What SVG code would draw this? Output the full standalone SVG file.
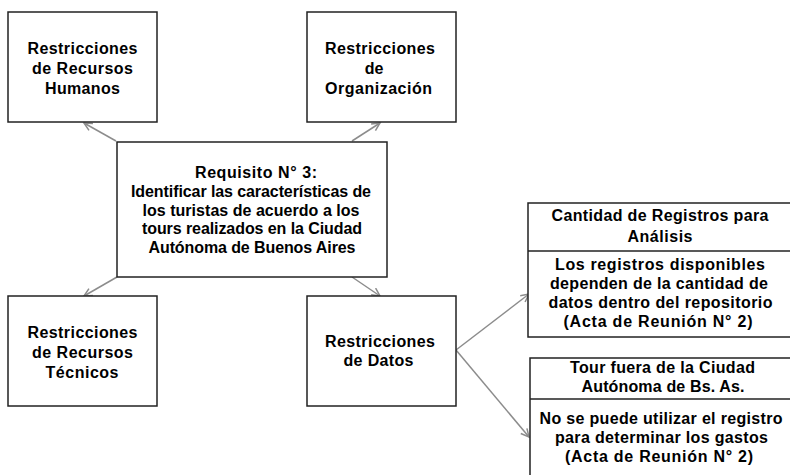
<svg xmlns="http://www.w3.org/2000/svg" width="790" height="475" viewBox="0 0 790 475">
<style>
.box{fill:#fff;stroke:#222;stroke-width:1.5}
.t{font-family:"Liberation Sans",Arial,sans-serif;font-weight:bold;font-size:16px;fill:#000;text-anchor:middle}
.c{fill:none;stroke:#8c8c8c;stroke-width:1.5}
</style>
<defs>
<marker id="ah" markerUnits="userSpaceOnUse" markerWidth="12" markerHeight="12" refX="9" refY="5" orient="auto">
<path d="M1,1 L9,5 L1,9" fill="none" stroke="#8c8c8c" stroke-width="1.5"/>
</marker>
</defs>
<g id="connectors">
<line class="c" x1="116" y1="141" x2="84" y2="123" marker-end="url(#ah)"/>
<line class="c" x1="352" y1="141" x2="380" y2="123" marker-end="url(#ah)"/>
<line class="c" x1="117" y1="277" x2="84" y2="296" marker-end="url(#ah)"/>
<line class="c" x1="352" y1="277" x2="380" y2="296" marker-end="url(#ah)"/>
<line class="c" x1="456" y1="350" x2="529" y2="294" marker-end="url(#ah)"/>
<line class="c" x1="456" y1="350" x2="529" y2="437" marker-end="url(#ah)"/>
</g>
<g id="rrh">
<rect class="box" x="8" y="12" width="149" height="110"/>
<text class="t" x="82.5" y="53.5" textLength="110">Restricciones</text>
<text class="t" x="82.5" y="74" textLength="101">de Recursos</text>
<text class="t" x="82.5" y="93.5" textLength="75">Humanos</text>
</g>
<g id="org">
<rect class="box" x="307" y="12" width="149" height="110"/>
<text class="t" x="380" y="53.5" textLength="110">Restricciones</text>
<text class="t" x="374" y="74">de</text>
<text class="t" x="378.5" y="93.5" textLength="107">Organización</text>
</g>
<g id="req">
<rect class="box" x="117" y="142" width="270" height="135"/>
<text class="t" x="256" y="178" textLength="122">Requisito N° 3:</text>
<text class="t" x="251" y="197" textLength="240">Identificar las características de</text>
<text class="t" x="251" y="215.5" textLength="217">los turistas de acuerdo a los</text>
<text class="t" x="252" y="234" textLength="220">tours realizados en la Ciudad</text>
<text class="t" x="252" y="252.5" textLength="207">Autónoma de Buenos Aires</text>
</g>
<g id="rrt">
<rect class="box" x="8" y="296" width="149" height="110"/>
<text class="t" x="82.5" y="337.5" textLength="110">Restricciones</text>
<text class="t" x="82.5" y="357.5" textLength="101">de Recursos</text>
<text class="t" x="82" y="377.5" textLength="73">Técnicos</text>
</g>
<g id="datos">
<rect class="box" x="307" y="296" width="149" height="110"/>
<text class="t" x="380" y="346.5" textLength="110">Restricciones</text>
<text class="t" x="378.5" y="366" textLength="70">de Datos</text>
</g>
<g id="cantidad">
<rect class="box" x="528" y="203" width="266" height="134"/>
<line class="box" x1="528" y1="251" x2="794" y2="251"/>
<text class="t" x="660" y="220.5" textLength="217">Cantidad de Registros para</text>
<text class="t" x="660" y="242" textLength="65">Análisis</text>
<text class="t" x="660" y="269.5" textLength="210">Los registros disponibles</text>
<text class="t" x="659" y="288.5" textLength="218">dependen de la cantidad de</text>
<text class="t" x="660.5" y="307.5" textLength="224">datos dentro del repositorio</text>
<text class="t" x="658" y="326.5" textLength="189">(Acta de Reunión N° 2)</text>
</g>
<g id="tour">
<rect class="box" x="530" y="358" width="266" height="130"/>
<line class="box" x1="530" y1="399" x2="796" y2="399"/>
<text class="t" x="662.5" y="373" textLength="185">Tour fuera de la Ciudad</text>
<text class="t" x="663" y="391.5" textLength="163">Autónoma de Bs. As.</text>
<text class="t" x="661" y="424" textLength="243">No se puede utilizar el registro</text>
<text class="t" x="661.5" y="442.5" textLength="213">para determinar los gastos</text>
<text class="t" x="659" y="461.5" textLength="188">(Acta de Reunión N° 2)</text>
</g>
</svg>
